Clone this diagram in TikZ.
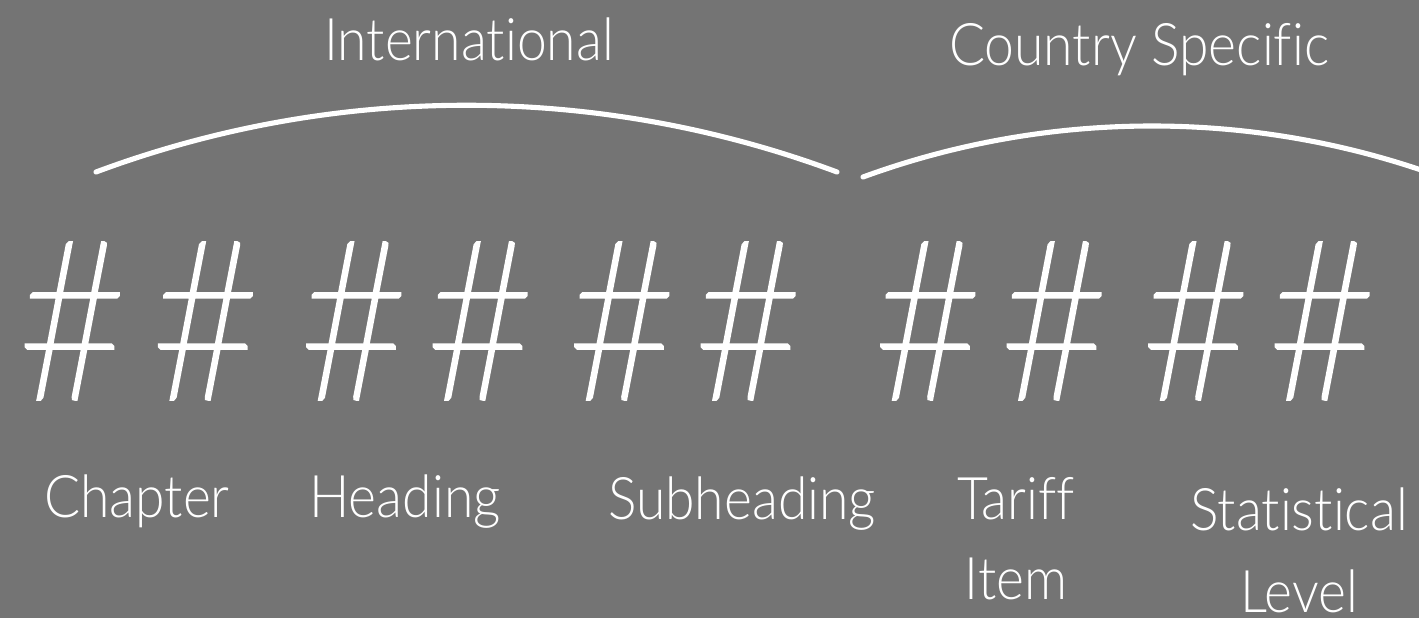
\documentclass[tikz,border=0pt]{standalone}
\usepackage{fontspec}
\setmainfont{Lato}[UprightFont=* Light, Ligatures=NoCommon, FakeStretch=0.91]
\newfontfamily\hashfont{Lato}[UprightFont=* Hairline, FakeBold=2, FakeStretch=0.86]
\definecolor{bggray}{RGB}{116,116,116}
\begin{document}
\begin{tikzpicture}[x=0.01cm,y=-0.01cm,
  label/.style={text=white,inner sep=0pt,anchor=base,font=\fontsize{16.7}{22.5}\selectfont,align=center},
  group/.style={text=white,inner sep=0pt,anchor=base,font=\fontsize{16.7}{22.5}\selectfont},
  digits/.style={text=white,inner sep=0pt,anchor=center,font=\hashfont\fontsize{63}{63}\selectfont},
  brace/.style={draw=white,line width=1.45pt,line cap=round}]
  % canvas
  \fill[bggray] (0,0) rectangle (1419,618);
  \useasboundingbox (0,0) rectangle (1419,618);

  % group titles
  \node[group] (intl) at (469,60) {International};
  \node[group] (ctry) at (1139,65) {Country Specific};

  % digit pairs
  \node[digits] (d1) at (139,321) {\#\hspace{6.5pt}\#};
  \node[digits] (d2) at (417,321) {\#\hspace{4.5pt}\#};
  \node[digits] (d3) at (685,321) {\#\hspace{4.5pt}\#};
  \node[digits] (d4) at (991,321) {\#\hspace{4.5pt}\#};
  \node[digits] (d5) at (1259,321) {\#\hspace{4.5pt}\#};

  % level labels (base anchor sits on the last line)
  \node[label] (chap) at (137,517) {Chapter};
  \node[label] (head) at (405,517) {Heading};
  \node[label] (sub)  at (742,519) {Subheading};
  \node[label] (tar)  at (1016,599) {Tariff\\Item};
  \node[label,font=\fontsize{16.7}{23.3}\selectfont] (stat) at (1299,612) {Statistical\\Level};

  % braces over the digit groups
  \coordinate (a1) at (96,172);
  \coordinate (a2) at (837,172);
  \coordinate (b1) at (863,177);
  \coordinate (b2) at (1441,177);
  \begin{scope}
    \clip (0,0) rectangle (1419,618);
    \draw[brace] (a1) .. controls (335,83) and (598,83) .. (a2);
    \draw[brace] (b1) .. controls (1049,109) and (1255,109) .. (b2);
  \end{scope}
\end{tikzpicture}
\end{document}
